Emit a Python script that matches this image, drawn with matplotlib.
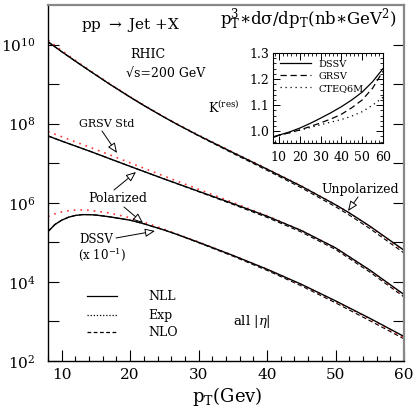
import numpy as np
import matplotlib
matplotlib.use("Agg")
import matplotlib.pyplot as plt
from matplotlib.ticker import FixedLocator, MultipleLocator, NullFormatter

plt.rcParams['font.family'] = 'DejaVu Serif'
plt.rcParams['mathtext.fontset'] = 'dejavuserif'

# main panel: log10 of p_T^3 dsigma/dp_T
pt_unpol = [8, 10, 12, 14, 17, 20, 22, 25, 27, 30, 35, 40, 45, 50, 52, 55, 60]
unpol_nll = [10.07, 9.82, 9.58, 9.345, 9.00, 8.67, 8.46, 8.16, 7.97, 7.70, 7.27, 6.85, 6.42, 5.95, 5.745, 5.41, 4.80]
unpol_exp = [10.11, 9.85, 9.60, 9.36, 9.01, 8.68, 8.47, 8.17, 7.98, 7.71, 7.28, 6.86, 6.43, 5.95, 5.745, 5.40, 4.78]
unpol_nlo = [10.07, 9.82, 9.58, 9.345, 9.00, 8.67, 8.46, 8.16, 7.97, 7.69, 7.25, 6.82, 6.38, 5.90, 5.69, 5.35, 4.73]

pt_pol = [8, 10, 12, 14, 16, 18, 20, 25, 30, 35, 40, 45, 50, 55, 60]
grsv_nll = [7.69, 7.56, 7.435, 7.31, 7.18, 7.05, 6.92, 6.60, 6.29, 5.98, 5.66, 5.30, 4.86, 4.30, 3.68]
grsv_exp = [7.80, 7.67, 7.54, 7.41, 7.28, 7.145, 7.01, 6.67, 6.34, 6.01, 5.67, 5.30, 4.86, 4.29, 3.66]
grsv_nlo = [7.69, 7.56, 7.435, 7.31, 7.18, 7.05, 6.92, 6.60, 6.28, 5.96, 5.63, 5.26, 4.82, 4.25, 3.62]

pt_dssv = [8, 9, 10, 11, 12, 13, 14, 15, 17, 20, 22, 25, 27, 30, 35, 40, 45, 50, 55, 60]
dssv_nll = [5.27, 5.45, 5.56, 5.635, 5.68, 5.70, 5.70, 5.69, 5.645, 5.56, 5.47, 5.31, 5.19, 5.00, 4.67, 4.32, 3.94, 3.52, 3.08, 2.62]
dssv_exp = [5.65, 5.72, 5.77, 5.80, 5.815, 5.82, 5.81, 5.79, 5.74, 5.62, 5.51, 5.33, 5.20, 5.01, 4.67, 4.32, 3.93, 3.51, 3.06, 2.59]
dssv_nlo = [5.27, 5.45, 5.56, 5.635, 5.68, 5.70, 5.70, 5.69, 5.645, 5.56, 5.47, 5.31, 5.19, 4.99, 4.65, 4.29, 3.90, 3.47, 3.02, 2.56]

# inset: resummation K factor
pt_k = [8, 10, 15, 20, 25, 30, 35, 40, 45, 50, 55, 60]
k_dssv = [0.978, 0.985, 0.997, 1.012, 1.030, 1.050, 1.071, 1.094, 1.120, 1.150, 1.190, 1.240]
k_grsv = [0.980, 0.985, 0.994, 1.005, 1.018, 1.032, 1.047, 1.065, 1.090, 1.120, 1.165, 1.230]
k_cteq = [0.980, 0.985, 0.994, 1.004, 1.014, 1.025, 1.035, 1.045, 1.058, 1.075, 1.100, 1.130]

W, H = 415, 413
fig = plt.figure(figsize=(W / 100, H / 100), dpi=100)


def fx(x):
    return x / W


def fy(y):
    return 1 - y / H


ax = fig.add_axes([fx(48), fy(361), (404 - 48) / W, (361 - 5) / H])

for x, nll, exp, nlo in [(pt_unpol, unpol_nll, unpol_exp, unpol_nlo),
                         (pt_pol, grsv_nll, grsv_exp, grsv_nlo),
                         (pt_dssv, dssv_nll, dssv_exp, dssv_nlo)]:
    ax.plot(x, 10 ** np.array(nlo), color='black', lw=0.8, ls=(0, (4, 2.5)))
    ax.plot(x, 10 ** np.array(exp), color='#ff3333', lw=1.2, ls=(0, (1, 3)))
    ax.plot(x, 10 ** np.array(nll), color='black', lw=1.0)

ax.set_yscale('log')
ax.set_xlim(8, 60)
ax.set_ylim(1e2, 1e11)

decades = list(range(2, 11))
ax.yaxis.set_major_locator(FixedLocator([10.0 ** d for d in decades]))
ax.set_yticklabels([f'$10^{{{d}}}$' if d % 2 == 0 else '' for d in decades])
ax.yaxis.set_minor_formatter(NullFormatter())
ax.yaxis.set_minor_locator(FixedLocator([]))
ax.xaxis.set_major_locator(MultipleLocator(10))
ax.xaxis.set_minor_locator(MultipleLocator(2))
ax.tick_params(axis='both', which='major', direction='in', length=8, width=0.8,
               labelsize=11, right=True, top=False)
ax.tick_params(axis='both', which='minor', direction='in', length=3.5, width=0.8,
               right=True, top=False)
ax.tick_params(axis='x', pad=5)
ax.tick_params(axis='y', pad=9)
for side in ['top', 'right']:
    ax.spines[side].set_color('#888888')
    ax.spines[side].set_linewidth(1.6)
for side in ['left', 'bottom']:
    ax.spines[side].set_linewidth(1.0)

# texts
fig.text(fx(131), fy(25), r'pp $\rightarrow$ Jet +X', ha='center', va='center', fontsize=11)
fig.text(fx(148), fy(55), 'RHIC', ha='center', va='center', fontsize=9)
fig.text(fx(166), fy(73), '√s=200 GeV', ha='center', va='center', fontsize=9)
fig.text(fx(308), fy(20), r'$\mathrm{p_T^3{\ast}d\sigma/dp_T(nb{\ast}GeV^2)}$',
         ha='center', va='center', fontsize=12)
fig.text(fx(224), fy(108), r'K$^{\rm (res)}$', ha='center', va='center', fontsize=9)
fig.text(fx(252), fy(322), r'all $|\eta|$', ha='center', va='center', fontsize=9.5)
fig.text(fx(227), fy(396), r'$\mathrm{p_T}$(Gev)', ha='center', va='center', fontsize=13)

arrow = dict(arrowstyle='-|>,head_length=0.6,head_width=0.25', fc='white', ec='black', lw=0.7,
             shrinkA=0, shrinkB=0)
fig.text(fx(107), fy(124), 'GRSV Std', ha='center', va='center', fontsize=8)
ax.annotate('', xy=(fx(117), fy(153)), xytext=(fx(102), fy(131)),
            xycoords='figure fraction', textcoords='figure fraction', arrowprops=arrow)
fig.text(fx(118), fy(198), 'Polarized', ha='center', va='center', fontsize=9)
ax.annotate('', xy=(fx(136), fy(172)), xytext=(fx(114), fy(190)),
            xycoords='figure fraction', textcoords='figure fraction', arrowprops=arrow)
ax.annotate('', xy=(fx(143), fy(223)), xytext=(fx(124), fy(207)),
            xycoords='figure fraction', textcoords='figure fraction', arrowprops=arrow)
fig.text(fx(96), fy(240), 'DSSV', ha='center', va='center', fontsize=8.5)
fig.text(fx(102), fy(255), r'(x 10$^{-1}$)', ha='center', va='center', fontsize=8.5)
ax.annotate('', xy=(fx(155), fy(231)), xytext=(fx(116), fy(238)),
            xycoords='figure fraction', textcoords='figure fraction', arrowprops=arrow)
fig.text(fx(360), fy(190), 'Unpolarized', ha='center', va='center', fontsize=9)
ax.annotate('', xy=(fx(348), fy(211)), xytext=(fx(358), fy(197)),
            xycoords='figure fraction', textcoords='figure fraction', arrowprops=arrow)

# legend drawn by hand
leg = [('NLL', '-', 296), ('Exp', (0, (1, 1.5)), 315), ('NLO', (0, (3, 2)), 332)]
for name, ls, yy in leg:
    fig.add_artist(plt.Line2D([fx(87), fx(117)], [fy(yy), fy(yy)], color='black',
                              lw=0.9, ls=ls, transform=fig.transFigure))
    fig.text(fx(148), fy(yy), name, ha='left', va='center', fontsize=9)

# inset
ins = fig.add_axes([fx(273), fy(143), (383 - 273) / W, (143 - 53) / H])
ins.plot(pt_k, k_dssv, color='black', lw=0.9, label='DSSV')
ins.plot(pt_k, k_grsv, color='black', lw=0.9, ls=(0, (5, 3)), label='GRSV')
ins.plot(pt_k, k_cteq, color='black', lw=0.9, ls=(0, (1, 3)), label='CTEQ6M')
ins.set_xlim(7.2, 60)
ins.set_ylim(0.955, 1.3)
ins.xaxis.set_major_locator(MultipleLocator(10))
ins.xaxis.set_minor_locator(MultipleLocator(2))
ins.yaxis.set_major_locator(MultipleLocator(0.1))
ins.yaxis.set_minor_locator(MultipleLocator(0.02))
ins.tick_params(which='major', direction='in', length=5, width=0.7, labelsize=9,
                top=True, right=True, pad=3)
ins.tick_params(which='minor', direction='in', length=2.5, width=0.6, top=True, right=True)
ins.tick_params(axis='x', pad=6)
for s in ins.spines.values():
    s.set_linewidth(0.8)
ins.legend(loc='upper left', frameon=False, fontsize=7, handlelength=3.2,
           handletextpad=0.8, labelspacing=0.3, borderaxespad=0.3)

plt.savefig('out.png', dpi=100)
